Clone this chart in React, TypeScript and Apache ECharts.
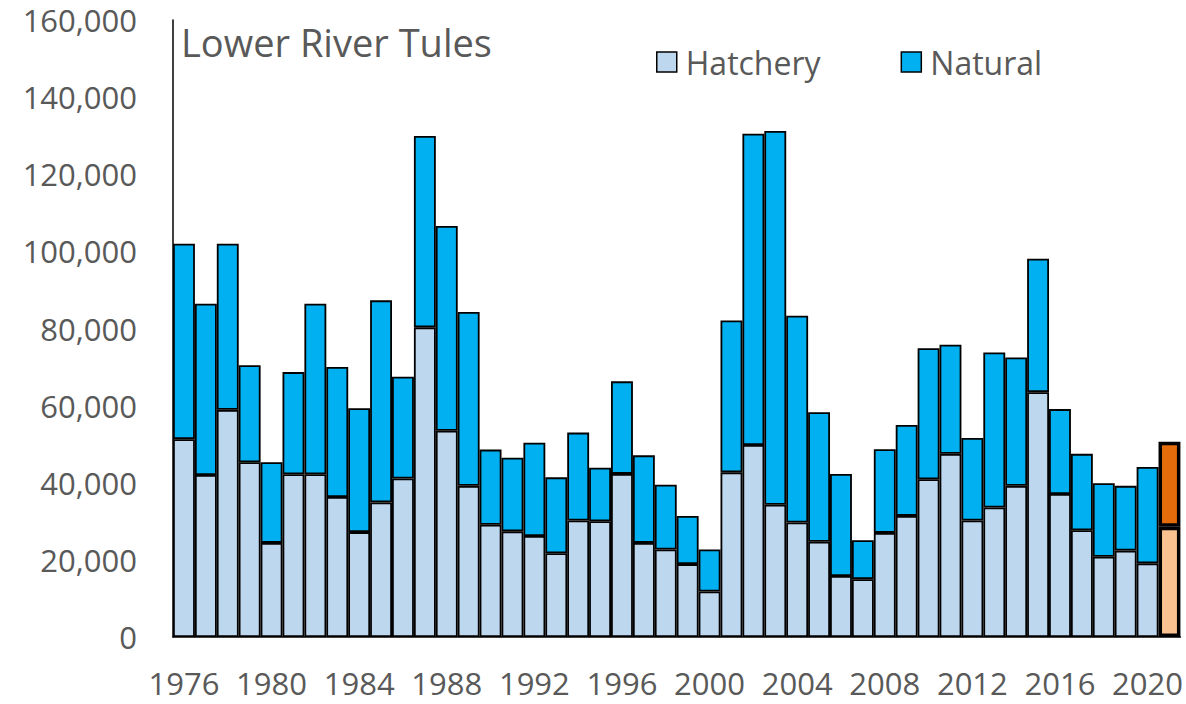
import React, { useEffect, useRef } from "react";
import * as echarts from "echarts";

const years: string[] = [];
for (let y = 1976; y <= 2021; y++) years.push(String(y));

const hatchery = [
  51300, 42000, 58900, 45300, 24400, 42200, 42200, 36300, 27200, 34900,
  41100, 80300, 53500, 39200, 29100, 27400, 26200, 21700, 30200, 30000,
  42300, 24400, 22700, 18900, 11800, 42700, 49800, 34300, 29700, 24700,
  15800, 15000, 27000, 31400, 40900, 47500, 30200, 33600, 39200, 63500,
  37100, 27700, 20800, 22400, 19100, 28600,
];

const natural = [
  50700, 44400, 43100, 25200, 20900, 26500, 44200, 33700, 32100, 52400,
  26400, 49600, 53100, 45100, 19500, 19100, 24200, 19700, 22800, 13900,
  24000, 22700, 16800, 12500, 10900, 39400, 80700, 96900, 53600, 33600,
  26500, 10100, 21700, 23600, 34000, 28300, 21400, 40200, 33300, 34600,
  22000, 19800, 19100, 16800, 25000, 22000,
];

const yTicks = [0, 20000, 40000, 60000, 80000, 100000, 120000, 140000, 160000];

const HATCH = "#BDD7EE";
const NAT = "#00B0F0";
const HATCH_PRELIM = "#F8C18F";
const NAT_PRELIM = "#E46C0A";
const GRAY = "#595959";
const FONT = "Open Sans";

export default function App() {
  const ref = useRef<HTMLDivElement>(null);
  useEffect(() => {
    if (!ref.current) return;
    const chart = echarts.init(ref.current, null, { renderer: "svg" });
    const last = years.length - 1;
    const mk = (vals: number[], prelimColor: string) =>
      vals.map((v, i) =>
        i === last
          ? { value: v, itemStyle: { color: prelimColor, borderColor: "#000", borderWidth: 3.5 } }
          : v
      );
    chart.setOption({
      animation: false,
      textStyle: { fontFamily: FONT },
      title: {
        text: "Lower River Tules",
        left: 181,
        top: 23,
        padding: 0,
        textStyle: { fontFamily: FONT, fontSize: 38, fontWeight: "normal", color: GRAY },
      },
      legend: {
        data: ["Hatchery", "Natural"],
        left: 656,
        top: 46,
        padding: 0,
        icon: "rect",
        itemWidth: 20,
        itemHeight: 20,
        itemGap: 80,
        textStyle: { fontFamily: FONT, fontSize: 32, color: GRAY, padding: [0, 0, 0, 4] },
        itemStyle: { borderColor: "#000", borderWidth: 1.5 },
      },
      grid: { left: 173, right: 3, top: 20, bottom: 67, containLabel: false },
      xAxis: {
        type: "category",
        data: years,
        axisTick: { show: false },
        axisLine: { show: true, lineStyle: { color: "#000", width: 1.5 } },
        axisLabel: {
          interval: 3,
          fontFamily: FONT,
          fontSize: 31,
          color: GRAY,
          margin: 30,
        },
      },
      yAxis: {
        type: "value",
        min: yTicks[0],
        max: yTicks[yTicks.length - 1],
        interval: yTicks[1] - yTicks[0],
        splitLine: { show: false },
        axisTick: { show: false },
        axisLine: { show: true, lineStyle: { color: "#000", width: 1.5 } },
        axisLabel: {
          fontFamily: FONT,
          fontSize: 31,
          color: GRAY,
          margin: 36,
          formatter: (v: number) => v.toLocaleString("en-US"),
        },
      },
      series: [
        {
          name: "Hatchery",
          type: "bar",
          stack: "total",
          barCategoryGap: "0%",
          itemStyle: { color: HATCH, borderColor: "#000", borderWidth: 1.8 },
          data: mk(hatchery, HATCH_PRELIM),
        },
        {
          name: "Natural",
          type: "bar",
          stack: "total",
          barCategoryGap: "0%",
          itemStyle: { color: NAT, borderColor: "#000", borderWidth: 1.8 },
          data: mk(natural, NAT_PRELIM),
        },
      ],
    });
    return () => chart.dispose();
  }, []);
  return (
    <div
      ref={ref}
      style={{ position: "fixed", left: 0, top: 0, width: 1186, height: 704, background: "#fff" }}
    />
  );
}
